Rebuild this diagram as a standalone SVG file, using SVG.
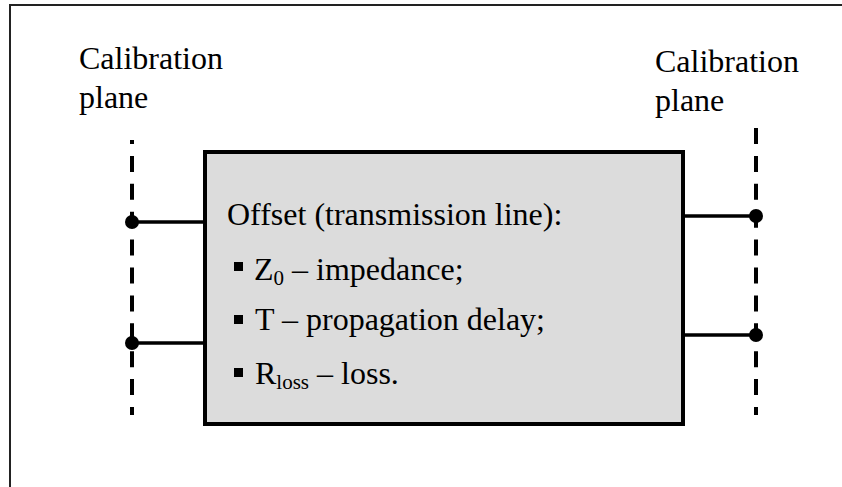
<svg xmlns="http://www.w3.org/2000/svg" width="842" height="487" viewBox="0 0 842 487">
<style>
text{font-family:"Liberation Serif","Times New Roman",serif;fill:#000;font-size:32px}
.sub{font-size:21px}
.plane{stroke:#000;stroke-width:4;stroke-dasharray:16 11.9;fill:none}
.wire{stroke:#000;stroke-width:3.5;fill:none}
.dot{fill:#000}
</style>
<rect x="0" y="0" width="842" height="487" fill="#fff"/>
<path d="M10,487 V5 H842" fill="none" stroke="#222" stroke-width="2"/>
<g id="labels">
<text x="79" y="69">Calibration</text>
<text x="79" y="108">plane</text>
<text x="655" y="72">Calibration</text>
<text x="655" y="111">plane</text>
</g>
<g id="planes">
<line class="plane" x1="132" y1="140" x2="132" y2="415" stroke-dashoffset="12"/>
<line class="plane" x1="756" y1="128" x2="756" y2="415"/>
</g>
<g id="offset">
<rect x="205" y="152" width="478" height="272" fill="#dcdcdc" stroke="#000" stroke-width="4"/>
<text x="227" y="225">Offset (transmission line):</text>
<rect x="234" y="262" width="9" height="9"/>
<text x="254" y="280">Z<tspan class="sub" dy="5">0</tspan><tspan dy="-5"> – impedance;</tspan></text>
<rect x="234" y="315" width="9" height="9"/>
<text x="255" y="330">T – propagation delay;</text>
<rect x="234" y="368" width="9" height="9"/>
<text x="255" y="384">R<tspan class="sub" dy="5">loss</tspan><tspan dy="-5"> – loss.</tspan></text>
</g>
<g id="connectors">
<line class="wire" x1="132" y1="222" x2="205" y2="222"/>
<line class="wire" x1="132" y1="343" x2="205" y2="343"/>
<line class="wire" x1="683" y1="216" x2="756" y2="216"/>
<line class="wire" x1="683" y1="335" x2="756" y2="335"/>
<circle class="dot" cx="132" cy="222" r="7"/>
<circle class="dot" cx="132" cy="343" r="7"/>
<circle class="dot" cx="756" cy="216" r="7"/>
<circle class="dot" cx="756" cy="335" r="7"/>
</g>
</svg>
